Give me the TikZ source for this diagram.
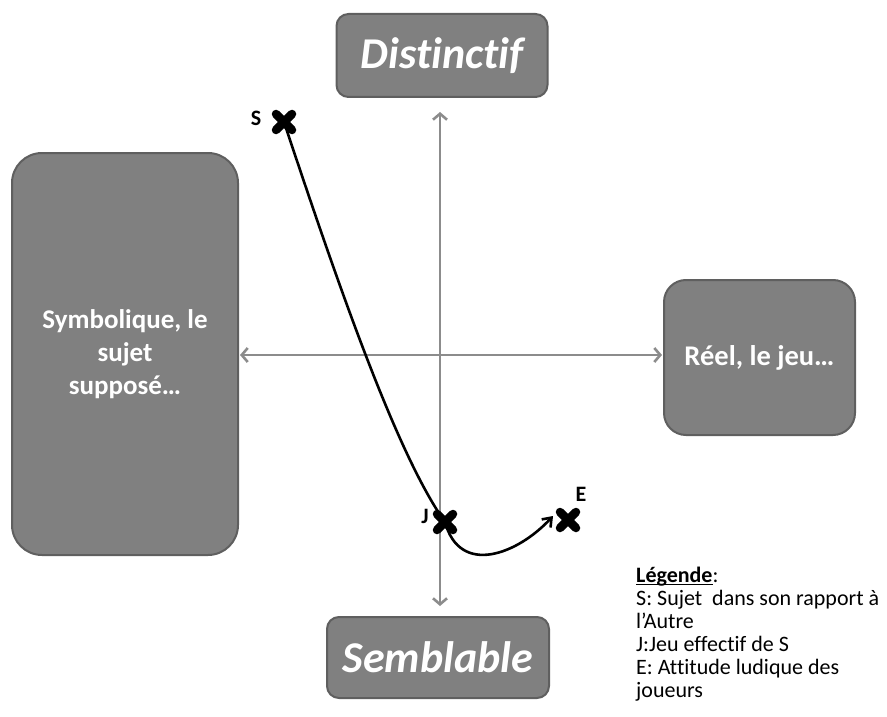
\documentclass[tikz,border=0pt]{standalone}
\usepackage{fontspec}
\setmainfont{Carlito}[Ligatures=NoCommon]
\usetikzlibrary{arrows.meta,calc}
\definecolor{boxfill}{RGB}{128,128,128}
\definecolor{boxline}{RGB}{95,95,95}
\definecolor{axiscol}{RGB}{140,140,140}
\newsavebox\legulbox
\newcommand\legul[1]{\sbox\legulbox{#1}\rlap{#1}\rule[-2.5pt]{\wd\legulbox}{1.3pt}}
\tikzset{
  graybox/.style={draw=boxline, line width=2pt, fill=boxfill, text=white, font=\bfseries, align=center, inner sep=0pt},
  axisarrow/.style={draw=axiscol, line width=2.6pt, {Straight Barb[length=6pt,width=14pt]}-{Straight Barb[length=6pt,width=14pt]}},
  crossmark/.style={line width=8.5pt, line cap=round},
  marklabel/.style={font=\fontsize{22}{24}\selectfont\bfseries, text=black},
  curveline/.style={line width=2.6pt, black},
}
\begin{document}
\begin{tikzpicture}[x=1pt,y=-1pt]
\useasboundingbox (0,0) rectangle (887,717);
% boxes
\node[graybox, rounded corners=12pt, minimum width=211pt, minimum height=83pt,
  font=\fontsize{44}{50}\selectfont\bfseries\itshape] (dist) at (442,55.5) {Distinctif};
\node[graybox, rounded corners=12pt, minimum width=222pt, minimum height=81pt,
  font=\fontsize{44}{50}\selectfont\bfseries\itshape] (sembl) at (438,657.5) {Semblable};
\node[graybox, rounded corners=30pt, minimum width=226pt, minimum height=402pt,
  font=\fontsize{27}{33}\selectfont\bfseries] (symb) at (125,354) {Symbolique, le\\sujet\\supposé…};
\node[graybox, rounded corners=22pt, minimum width=191pt, minimum height=155pt,
  font=\fontsize{28.5}{33}\selectfont\bfseries] (reel) at (759.5,357.5) {Réel, le jeu…};
% axes
\coordinate (top) at (440,112);
\coordinate (bot) at (440,606);
\coordinate (lft) at (240,355);
\coordinate (rgt) at (662,355);
\draw[axisarrow] (top) -- (bot);
\draw[axisarrow] (lft) -- (rgt);
% points
\coordinate (S) at (284,122);
\coordinate (J) at (445,522);
\coordinate (E) at (568,520);
\coordinate (Etip) at (553,516);
\node[marklabel] (Sl) at (256,118) {S};
\node[marklabel] (Jl) at (425,516) {J};
\node[marklabel] (El) at (581,494) {E};
% curve
\draw[curveline, -{Straight Barb[length=8pt,width=12pt]}]
  (S) .. controls +(50,150) and +(-50,-70) .. (J)
      .. controls +(15,55) and +(-35,38) .. (Etip);
% crosses
\foreach \p in {S,J,E}{
  \draw[crossmark] ($(\p)+(-8,-8)$) -- ($(\p)+(8,8)$);
  \draw[crossmark] ($(\p)+(-8,8)$) -- ($(\p)+(8,-8)$);
}
% legend
\node[anchor=north west, align=left, inner sep=0pt, font=\fontsize{22}{23}\selectfont] (leg) at (636,567)
  {\legul{\textbf{Légende}}:\\S: Sujet\ \ dans son rapport à\\l’Autre\\J:Jeu effectif de S\\E: Attitude ludique des\\joueurs};
\end{tikzpicture}
\end{document}
